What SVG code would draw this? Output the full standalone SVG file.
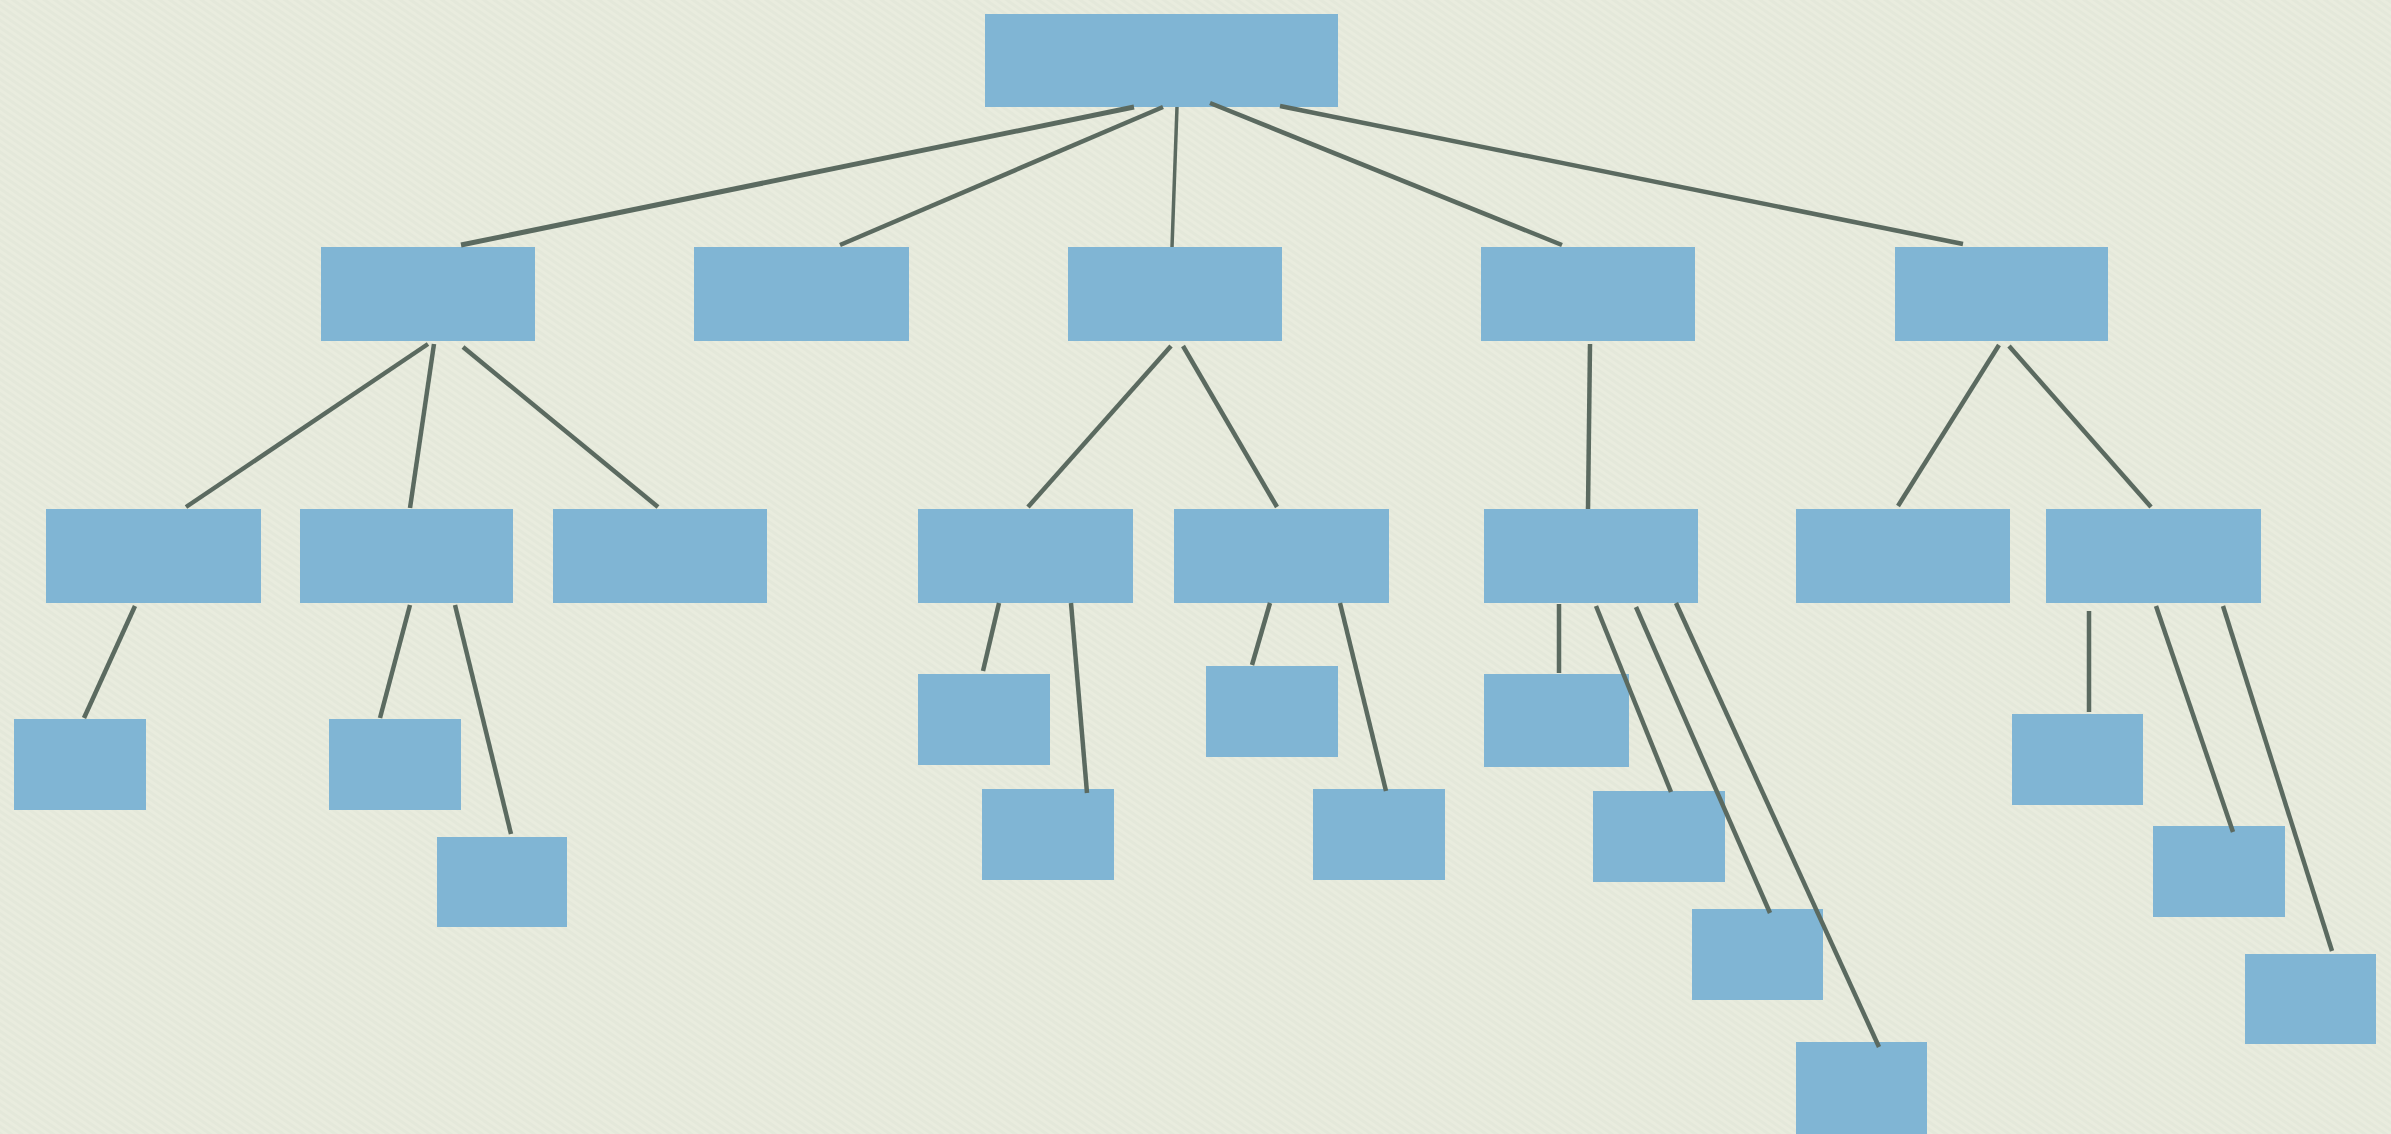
<svg xmlns="http://www.w3.org/2000/svg" width="2391" height="1134" viewBox="0 0 2391 1134">
<style>
.bg{fill:#e4e8da}
.n{fill:#80b5d4}
.c line{stroke:#5b6a60;stroke-width:4.5;stroke-linecap:butt}
</style>
<defs>
<pattern id="tex" width="6" height="6" patternUnits="userSpaceOnUse" patternTransform="rotate(35)">
<rect width="6" height="3" fill="#eceee2" opacity="0.55"/>
</pattern>
</defs>
<rect class="bg" x="0" y="0" width="2391" height="1134"/>
<rect fill="url(#tex)" x="0" y="0" width="2391" height="1134"/>
<g id="root"><rect class="n" x="985" y="14" width="353" height="93"/></g>
<g id="nA"><rect class="n" x="321" y="247" width="214" height="94"/></g>
<g id="nB"><rect class="n" x="694" y="247" width="215" height="94"/></g>
<g id="nC"><rect class="n" x="1068" y="247" width="214" height="94"/></g>
<g id="nD"><rect class="n" x="1481" y="247" width="214" height="94"/></g>
<g id="nE"><rect class="n" x="1895" y="247" width="213" height="94"/></g>
<g id="nA1"><rect class="n" x="46" y="509" width="215" height="94"/></g>
<g id="nA2"><rect class="n" x="300" y="509" width="213" height="94"/></g>
<g id="nA3"><rect class="n" x="553" y="509" width="214" height="94"/></g>
<g id="nC1"><rect class="n" x="918" y="509" width="215" height="94"/></g>
<g id="nC2"><rect class="n" x="1174" y="509" width="215" height="94"/></g>
<g id="nD1"><rect class="n" x="1484" y="509" width="214" height="94"/></g>
<g id="nE1"><rect class="n" x="1796" y="509" width="214" height="94"/></g>
<g id="nE2"><rect class="n" x="2046" y="509" width="215" height="94"/></g>
<g id="nA1a"><rect class="n" x="14" y="719" width="132" height="91"/></g>
<g id="nA2a"><rect class="n" x="329" y="719" width="132" height="91"/></g>
<g id="nA2b"><rect class="n" x="437" y="837" width="130" height="90"/></g>
<g id="nC1a"><rect class="n" x="918" y="674" width="132" height="91"/></g>
<g id="nC1b"><rect class="n" x="982" y="789" width="132" height="91"/></g>
<g id="nC2a"><rect class="n" x="1206" y="666" width="132" height="91"/></g>
<g id="nC2b"><rect class="n" x="1313" y="789" width="132" height="91"/></g>
<g id="nD1a"><rect class="n" x="1484" y="674" width="145" height="93"/></g>
<g id="nD1b"><rect class="n" x="1593" y="791" width="132" height="91"/></g>
<g id="nD1c"><rect class="n" x="1692" y="909" width="131" height="91"/></g>
<g id="nD1d"><rect class="n" x="1796" y="1042" width="131" height="92"/></g>
<g id="nE2a"><rect class="n" x="2012" y="714" width="131" height="91"/></g>
<g id="nE2b"><rect class="n" x="2153" y="826" width="132" height="91"/></g>
<g id="nE2c"><rect class="n" x="2245" y="954" width="131" height="90"/></g>
<g class="c" id="connectors">
<line x1="1134" y1="107" x2="461" y2="245" style="stroke-width:5"/>
<line x1="1163" y1="107" x2="840" y2="245"/>
<line x1="1177" y1="107" x2="1172" y2="247" style="stroke-width:3.5"/>
<line x1="1210" y1="103" x2="1562" y2="245"/>
<line x1="1280" y1="106" x2="1963" y2="244"/>
<line x1="428" y1="344" x2="186" y2="507"/>
<line x1="434" y1="344" x2="410" y2="508"/>
<line x1="463" y1="347" x2="658" y2="507"/>
<line x1="135" y1="606" x2="84" y2="718"/>
<line x1="410" y1="605" x2="380" y2="718"/>
<line x1="455" y1="605" x2="511" y2="834"/>
<line x1="1171" y1="346" x2="1028" y2="507"/>
<line x1="1183" y1="346" x2="1277" y2="507"/>
<line x1="999" y1="603" x2="983" y2="671"/>
<line x1="1071" y1="603" x2="1087" y2="793"/>
<line x1="1270" y1="603" x2="1252" y2="665"/>
<line x1="1340" y1="603" x2="1386" y2="791"/>
<line x1="1590" y1="344" x2="1588" y2="509"/>
<line x1="1559" y1="604" x2="1559" y2="673"/>
<line x1="1596" y1="606" x2="1671" y2="792"/>
<line x1="1636" y1="607" x2="1770" y2="913"/>
<line x1="1676" y1="603" x2="1879" y2="1047"/>
<line x1="1999" y1="345" x2="1898" y2="506"/>
<line x1="2009" y1="346" x2="2151" y2="507"/>
<line x1="2089" y1="611" x2="2089" y2="712"/>
<line x1="2156" y1="606" x2="2233" y2="832"/>
<line x1="2223" y1="606" x2="2332" y2="951"/>
</g>
</svg>
